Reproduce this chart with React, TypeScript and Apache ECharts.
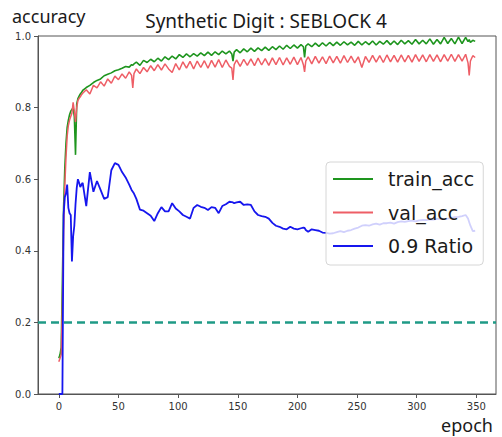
import React, { useEffect, useRef } from 'react';
import * as echarts from 'echarts';

const epochs = [
  0, 1, 2, 3, 4, 5, 6, 7, 8, 9, 10, 11, 12, 13, 14, 15, 16, 17, 18, 19,
  20, 23, 26, 29, 32, 35, 38, 41, 44, 47, 50, 53, 56, 59,
  61, 62, 63,
  65, 68, 71, 74, 77, 80, 83, 86, 89, 92, 95, 98, 101, 104, 107, 110, 113, 116, 119, 122, 125, 128, 131, 134, 137, 140, 143,
  145, 146, 147,
  149, 152, 155, 158, 161, 164, 167, 170, 173, 176, 179, 182, 185, 188, 191, 194, 197, 200, 203,
  205, 206, 207,
  209, 212, 215, 218, 221, 224, 227, 230, 233, 236, 239, 242, 245, 248, 251, 254, 257, 260, 263, 266,
  269, 272, 275, 278, 281, 284, 287, 290, 293, 296, 299, 302, 305, 308, 311, 314, 317, 320, 323, 326,
  329, 332, 335, 338, 341,
  343, 344, 345,
  347, 349,
];

const trainAcc = [
  0.10, 0.11, 0.13, 0.32, 0.52, 0.63, 0.70, 0.745, 0.765, 0.78, 0.79, 0.795, 0.80, 0.775, 0.668, 0.81, 0.825, 0.832, 0.838, 0.842,
  0.848, 0.856, 0.862, 0.87, 0.876, 0.88, 0.889, 0.893, 0.897, 0.903, 0.906, 0.91, 0.915, 0.913,
  0.92, 0.918, 0.922,
  0.927, 0.918, 0.932, 0.926, 0.935, 0.928, 0.938, 0.93, 0.942, 0.934, 0.944, 0.936, 0.948, 0.94, 0.95, 0.942, 0.951, 0.944, 0.953, 0.945, 0.955, 0.946, 0.956, 0.948, 0.958, 0.95, 0.958,
  0.95, 0.93, 0.955,
  0.962, 0.953, 0.964, 0.956, 0.966, 0.957, 0.967, 0.959, 0.969, 0.96, 0.97, 0.962, 0.972, 0.963, 0.974, 0.965, 0.975, 0.966, 0.976,
  0.97, 0.94, 0.972,
  0.978, 0.97, 0.98, 0.971, 0.981, 0.972, 0.982, 0.973, 0.983, 0.974, 0.984, 0.975, 0.983, 0.974, 0.985, 0.975, 0.984, 0.976, 0.986, 0.975,
  0.985, 0.977, 0.987, 0.976, 0.986, 0.976, 0.988, 0.978, 0.987, 0.977, 0.99, 0.978, 0.988, 0.978, 0.992, 0.977, 0.99, 0.978, 0.996, 0.979,
  0.993, 0.978, 0.997, 0.979, 0.996,
  0.984, 0.99, 0.982,
  0.988, 0.985,
];

const valAcc = [
  0.09, 0.10, 0.11, 0.25, 0.45, 0.58, 0.66, 0.72, 0.75, 0.765, 0.775, 0.785, 0.815, 0.79, 0.76, 0.80, 0.82, 0.826, 0.83, 0.836,
  0.84, 0.85, 0.838, 0.862, 0.855, 0.872, 0.86, 0.88, 0.868, 0.888, 0.878, 0.894, 0.882, 0.9,
  0.89, 0.855, 0.895,
  0.908, 0.895, 0.912, 0.9, 0.917, 0.903, 0.92, 0.905, 0.922, 0.908, 0.898, 0.923, 0.905, 0.928, 0.91, 0.929, 0.908, 0.93, 0.912, 0.931, 0.91, 0.932, 0.913, 0.934, 0.912, 0.933, 0.915,
  0.91, 0.877, 0.92,
  0.933, 0.915, 0.935, 0.918, 0.936, 0.917, 0.938, 0.919, 0.937, 0.918, 0.939, 0.92, 0.94, 0.919, 0.939, 0.921, 0.941, 0.92, 0.94,
  0.92, 0.90, 0.93,
  0.942, 0.922, 0.943, 0.924, 0.942, 0.923, 0.944, 0.925, 0.943, 0.924, 0.945, 0.926, 0.944, 0.925, 0.942, 0.912, 0.943, 0.926, 0.946, 0.927,
  0.945, 0.926, 0.947, 0.928, 0.946, 0.927, 0.947, 0.928, 0.946, 0.927, 0.948, 0.929, 0.947, 0.928, 0.948, 0.929, 0.947, 0.928, 0.948, 0.93,
  0.949, 0.929, 0.948, 0.93, 0.949,
  0.925, 0.89, 0.93,
  0.945, 0.94,
];

const ratio09 = [
  0, 0, 0, 0, 0.50, 0.55, 0.56, 0.585, 0.52, 0.505, 0.50, 0.37, 0.44, 0.47, 0.53, 0.575, 0.60, 0.59, 0.578, 0.585,
  0.59, 0.525, 0.62, 0.565, 0.595, 0.57, 0.545, 0.55, 0.625, 0.645, 0.64, 0.62, 0.605, 0.585,
  0.57, 0.565, 0.56,
  0.545, 0.515, 0.512, 0.505, 0.498, 0.483, 0.505, 0.522, 0.51, 0.51, 0.533, 0.518, 0.51, 0.50, 0.495, 0.49, 0.52, 0.528, 0.523, 0.52, 0.514, 0.522, 0.52, 0.505, 0.525, 0.53, 0.537,
  0.536, 0.535, 0.533,
  0.535, 0.537, 0.528, 0.53, 0.528, 0.51, 0.50, 0.497, 0.495, 0.49, 0.478, 0.47, 0.467, 0.462, 0.46, 0.467, 0.462, 0.46, 0.463,
  0.465, 0.464, 0.458,
  0.453, 0.46, 0.458, 0.456, 0.451, 0.45, 0.448, 0.449, 0.452, 0.455, 0.452, 0.456, 0.458, 0.462, 0.465, 0.47, 0.472, 0.47, 0.474, 0.476,
  0.473, 0.477, 0.477, 0.479, 0.476, 0.48, 0.482, 0.481, 0.483, 0.484, 0.482, 0.485, 0.486, 0.486, 0.488, 0.487, 0.489, 0.49, 0.489, 0.49,
  0.492, 0.494, 0.495, 0.497, 0.50,
  0.49, 0.48, 0.47,
  0.455, 0.456,
];

const xTicks = [0, 50, 100, 150, 200, 250, 300, 350];
const yTicks = [0, 0.2, 0.4, 0.6, 0.8, 1.0];
const chanceLevel = 0.2;
const seriesNames = ['train_acc', 'val_acc', '0.9 Ratio'];
const titleText = 'Synthetic Digit : SEBLOCK 4';
const yName = 'accuracy';
const xName = 'epoch';

export default function App() {
  const ref = useRef<HTMLDivElement>(null);
  useEffect(() => {
    const chart = echarts.init(ref.current!, null, { renderer: 'svg' });
    const pairs = (vals: number[]) => epochs.map((e, i) => [e, vals[i]]);
    const tickFont = { fontFamily: 'DejaVu Sans', fontSize: 10, color: '#333' };
    chart.setOption({
      animation: false,
      backgroundColor: '#ffffff',
      grid: { left: 38, right: 6, top: 36, bottom: 43, show: true, borderColor: '#555', borderWidth: 1, backgroundColor: 'transparent' },
      xAxis: {
        type: 'value',
        min: -17.45,
        max: 366.45,
        splitLine: { show: false },
        axisLine: { show: true, onZero: false, lineStyle: { color: '#555', width: 1 } },
        axisTick: { show: true, length: 4, customValues: xTicks, lineStyle: { color: '#555' } },
        axisLabel: { ...tickFont, margin: 7, customValues: xTicks, formatter: (v: number) => String(v) },
      },
      yAxis: {
        type: 'value',
        min: 0,
        max: 1,
        splitLine: { show: false },
        axisLine: { show: true, onZero: false, lineStyle: { color: '#555', width: 1 } },
        axisTick: { show: true, length: 4, customValues: yTicks, lineStyle: { color: '#555' } },
        axisLabel: { ...tickFont, margin: 7, customValues: yTicks, formatter: (v: number) => v.toFixed(1) },
      },
      legend: {
        data: seriesNames,
        orient: 'vertical',
        left: 326,
        top: 162,
        padding: [6, 9, 8, 7],
        itemGap: 11.5,
        itemWidth: 40,
        itemHeight: 2,
        icon: 'rect',
        backgroundColor: 'rgba(255,255,255,0.8)',
        borderColor: '#d6d6d6',
        borderWidth: 1,
        borderRadius: 4,
        textStyle: { fontFamily: 'DejaVu Sans', fontSize: 19, color: '#1a1a1a', lineHeight: 22, padding: [0, 0, 0, 10] },
      },
      graphic: [
        { type: 'text', x: 266, y: 21, style: { text: titleText, fontFamily: 'Noto Sans', fontSize: 19, fill: '#1a1a1a', align: 'center', verticalAlign: 'middle' } },
        { type: 'text', x: 12, y: 16, style: { text: yName, fontFamily: 'Noto Sans', fontSize: 18, fill: '#1a1a1a', align: 'left', verticalAlign: 'middle' } },
        { type: 'text', x: 493, y: 425, style: { text: xName, fontFamily: 'Noto Sans', fontSize: 18, fill: '#1a1a1a', align: 'right', verticalAlign: 'middle' } },
      ],
      series: [
        {
          name: seriesNames[0], type: 'line', data: pairs(trainAcc), symbol: 'none', showSymbol: false,
          lineStyle: { color: '#1e951e', width: 1.6 }, itemStyle: { color: '#1e951e' },
        },
        {
          name: seriesNames[1], type: 'line', data: pairs(valAcc), symbol: 'none', showSymbol: false,
          lineStyle: { color: '#ee5e66', width: 1.5 }, itemStyle: { color: '#ee5e66' },
        },
        {
          name: seriesNames[2], type: 'line', data: pairs(ratio09), symbol: 'none', showSymbol: false,
          lineStyle: { color: '#1616ee', width: 1.8 }, itemStyle: { color: '#1616ee' },
          markLine: {
            silent: true,
            symbol: ['none', 'none'],
            label: { show: false },
            lineStyle: { color: '#1f9a86', width: 2.5, type: [8, 5] },
            data: [{ yAxis: chanceLevel }],
          },
        },
      ],
    });
    return () => chart.dispose();
  }, []);
  return <div ref={ref} style={{ position: 'fixed', left: 0, top: 0, width: 502, height: 437, background: '#fff' }} />;
}
